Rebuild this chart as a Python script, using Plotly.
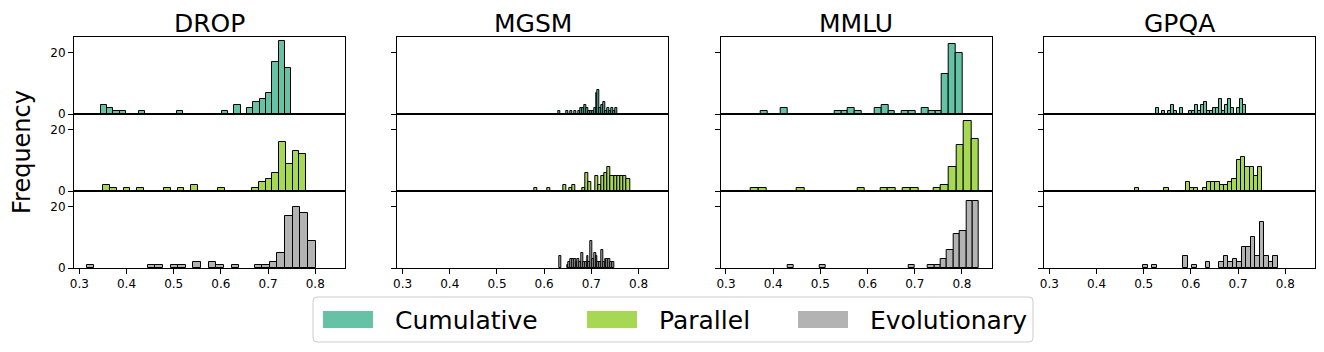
import numpy as np
import plotly.graph_objects as go
from plotly.subplots import make_subplots

# the page body adds an 8px margin, so the figure is sized to fit inside it
PAGE_W, PAGE_H, OFF = 1324, 352, 8
W, H = PAGE_W - 2 * OFF, PAGE_H - 2 * OFF

benchmarks = ['DROP', 'MGSM', 'MMLU', 'GPQA']
methods = ['Cumulative', 'Parallel', 'Evolutionary']
colors = {'Cumulative': '#66c2a5', 'Parallel': '#a6d854', 'Evolutionary': '#b3b3b3'}

# 30-bin histogram counts per panel, plus the outer bin edges (lo, hi)
drop_cumulative = [3, 2, 1, 1, 0, 0, 1, 0, 0, 0, 0, 0, 1, 0, 0, 0, 0, 0, 0, 1, 0, 3, 0, 2, 4, 5, 7, 17, 24, 15]
drop_cumulative_edges = (0.3453, 0.7496)
drop_parallel = [2, 1, 0, 1, 0, 1, 0, 0, 0, 1, 0, 1, 0, 2, 0, 0, 0, 1, 0, 0, 0, 0, 1, 3, 4, 6, 16, 9, 13, 12]
drop_parallel_edges = (0.3509, 0.7808)
drop_evolutionary = [1, 0, 0, 0, 0, 0, 0, 0, 1, 1, 0, 1, 1, 0, 2, 0, 2, 1, 0, 1, 0, 0, 1, 1, 2, 5, 17, 20, 18, 9]
drop_evolutionary_edges = (0.3156, 0.8006)

mgsm_cumulative = [1, 0, 0, 0, 1, 0, 1, 0, 1, 0, 1, 2, 2, 3, 2, 1, 1, 1, 2, 7, 8, 2, 3, 4, 1, 2, 1, 2, 1, 2]
mgsm_cumulative_edges = (0.6306, 0.7550)
mgsm_parallel = [1, 0, 0, 0, 1, 0, 0, 0, 0, 2, 0, 1, 2, 0, 0, 1, 6, 3, 0, 5, 2, 5, 6, 8, 5, 5, 5, 5, 5, 4]
mgsm_parallel_edges = (0.5785, 0.7818)
mgsm_evolutionary = [4, 0, 0, 0, 1, 2, 3, 3, 3, 2, 3, 2, 5, 2, 2, 4, 2, 9, 3, 5, 4, 2, 2, 6, 2, 3, 3, 3, 2, 2]
mgsm_evolutionary_edges = (0.6327, 0.7480)

mmlu_cumulative = [1, 0, 0, 2, 0, 0, 0, 0, 0, 0, 0, 1, 1, 2, 1, 0, 0, 2, 3, 1, 0, 1, 1, 0, 2, 1, 1, 13, 23, 20]
mmlu_cumulative_edges = (0.3731, 0.8007)
mmlu_parallel = [1, 1, 0, 0, 0, 0, 1, 0, 0, 0, 0, 0, 0, 0, 1, 0, 0, 1, 1, 0, 1, 1, 0, 0, 1, 2, 8, 15, 23, 17]
mmlu_parallel_edges = (0.3533, 0.8361)
mmlu_evolutionary = [1, 0, 0, 0, 0, 1, 0, 0, 0, 0, 0, 0, 0, 0, 0, 0, 0, 0, 0, 1, 0, 0, 1, 1, 3, 6, 11, 12, 22, 22]
mmlu_evolutionary_edges = (0.4300, 0.8361)

gpqa_cumulative = [2, 0, 1, 0, 1, 3, 1, 0, 2, 0, 0, 1, 1, 3, 1, 3, 4, 1, 1, 2, 2, 5, 1, 3, 5, 2, 0, 2, 5, 3]
gpqa_cumulative_edges = (0.5257, 0.7175)
gpqa_parallel = [1, 0, 0, 0, 0, 0, 0, 1, 0, 0, 0, 0, 3, 1, 1, 0, 1, 3, 3, 3, 2, 2, 3, 4, 10, 11, 8, 8, 5, 8]
gpqa_parallel_edges = (0.4806, 0.7513)
gpqa_evolutionary = [1, 0, 1, 0, 0, 0, 0, 0, 0, 4, 0, 1, 0, 0, 2, 0, 0, 2, 4, 2, 3, 2, 7, 7, 10, 4, 15, 4, 2, 4]
gpqa_evolutionary_edges = (0.4988, 0.7837)

hists = {
    ('DROP', 'Cumulative'): (drop_cumulative, drop_cumulative_edges),
    ('DROP', 'Parallel'): (drop_parallel, drop_parallel_edges),
    ('DROP', 'Evolutionary'): (drop_evolutionary, drop_evolutionary_edges),
    ('MGSM', 'Cumulative'): (mgsm_cumulative, mgsm_cumulative_edges),
    ('MGSM', 'Parallel'): (mgsm_parallel, mgsm_parallel_edges),
    ('MGSM', 'Evolutionary'): (mgsm_evolutionary, mgsm_evolutionary_edges),
    ('MMLU', 'Cumulative'): (mmlu_cumulative, mmlu_cumulative_edges),
    ('MMLU', 'Parallel'): (mmlu_parallel, mmlu_parallel_edges),
    ('MMLU', 'Evolutionary'): (mmlu_evolutionary, mmlu_evolutionary_edges),
    ('GPQA', 'Cumulative'): (gpqa_cumulative, gpqa_cumulative_edges),
    ('GPQA', 'Parallel'): (gpqa_parallel, gpqa_parallel_edges),
    ('GPQA', 'Evolutionary'): (gpqa_evolutionary, gpqa_evolutionary_edges),
}

x_ticks = [0.3, 0.4, 0.5, 0.6, 0.7, 0.8]
y_ticks = [0, 20]

FONT = 'DejaVu Sans'

# panel geometry in page pixels
col_left = [74, 397.3, 720.7, 1044]
col_w = 271
row_top = [37, 114, 191]
row_h = 77


def fx(p):
    return (p - OFF) / W


def fy(p):
    return 1 - (p - OFF) / H


fig = make_subplots(rows=3, cols=4)

for c, bench in enumerate(benchmarks):
    for r, method in enumerate(methods):
        counts, (lo, hi) = hists[(bench, method)]
        counts = np.array(counts)
        edges = np.linspace(lo, hi, len(counts) + 1)
        centers = (edges[:-1] + edges[1:]) / 2
        keep = counts > 0
        fig.add_trace(
            go.Bar(
                x=centers[keep],
                y=counts[keep],
                width=edges[1] - edges[0],
                marker=dict(color=colors[method], line=dict(color='black', width=1)),
                showlegend=False,
                hoverinfo='skip',
            ),
            row=r + 1, col=c + 1
        )
        fig.update_xaxes(
            domain=[fx(col_left[c]), fx(col_left[c] + col_w)],
            range=[0.2888, 0.863], automargin=False,
            showline=True, mirror=True, linecolor='black', linewidth=1,
            showgrid=False, zeroline=False,
            tickvals=x_ticks, ticktext=[f'{t:.1f}' for t in x_ticks],
            ticks='outside' if r == 2 else '', ticklen=5, tickcolor='black',
            showticklabels=(r == 2),
            tickfont=dict(family=FONT, size=12, color='black'),
            row=r + 1, col=c + 1
        )
        fig.update_yaxes(
            domain=[fy(row_top[r] + row_h), fy(row_top[r])],
            range=[0, 25.2], automargin=False,
            showline=True, mirror=True, linecolor='black', linewidth=1,
            showgrid=False, zeroline=False,
            tickvals=y_ticks, ticks='outside', ticklen=5, tickcolor='black',
            showticklabels=(c == 0),
            tickfont=dict(family=FONT, size=12, color='black'),
            row=r + 1, col=c + 1
        )

# column titles, kept inside the top edge of the figure
for c, bench in enumerate(benchmarks):
    fig.add_annotation(
        x=fx(col_left[c] + col_w / 2), y=fy(OFF), xref='paper', yref='paper',
        text=bench, showarrow=False, xanchor='center', yanchor='top', borderpad=0,
        font=dict(family=FONT, size=25, color='black')
    )

fig.add_annotation(
    x=fx(22), y=fy(152), xref='paper', yref='paper', text='Frequency',
    textangle=-90, showarrow=False, xanchor='center', yanchor='middle',
    font=dict(family=FONT, size=24, color='black')
)

# legend drawn by hand to get matplotlib-sized patches, frame with rounded corners
lx0, lx1, ly0, ly1, rad = 313, 1033, 297, 342, 4
frame = (
    f'M {fx(lx0 + rad)} {fy(ly0)} L {fx(lx1 - rad)} {fy(ly0)} '
    f'Q {fx(lx1)} {fy(ly0)} {fx(lx1)} {fy(ly0 + rad)} '
    f'L {fx(lx1)} {fy(ly1 - rad)} Q {fx(lx1)} {fy(ly1)} {fx(lx1 - rad)} {fy(ly1)} '
    f'L {fx(lx0 + rad)} {fy(ly1)} Q {fx(lx0)} {fy(ly1)} {fx(lx0)} {fy(ly1 - rad)} '
    f'L {fx(lx0)} {fy(ly0 + rad)} Q {fx(lx0)} {fy(ly0)} {fx(lx0 + rad)} {fy(ly0)} Z'
)
fig.add_shape(type='path', path=frame, xref='paper', yref='paper',
              line=dict(color='#cccccc', width=1), fillcolor='white')
patch_x = [323, 587, 798]
for method, px in zip(methods, patch_x):
    fig.add_shape(type='rect', xref='paper', yref='paper',
                  x0=fx(px), x1=fx(px + 50), y0=fy(328), y1=fy(311),
                  line=dict(width=0), fillcolor=colors[method])
    fig.add_annotation(
        x=fx(px + 70), y=fy(320), xref='paper', yref='paper', text=method,
        showarrow=False, xanchor='left', yanchor='middle',
        font=dict(family=FONT, size=25, color='black')
    )

fig.update_layout(
    width=W, height=H,
    margin=dict(l=0, r=0, t=0, b=0, autoexpand=False),
    paper_bgcolor='white', plot_bgcolor='white',
    bargap=0,
    font=dict(family=FONT, color='black'),
)

fig.write_html('out.html')
